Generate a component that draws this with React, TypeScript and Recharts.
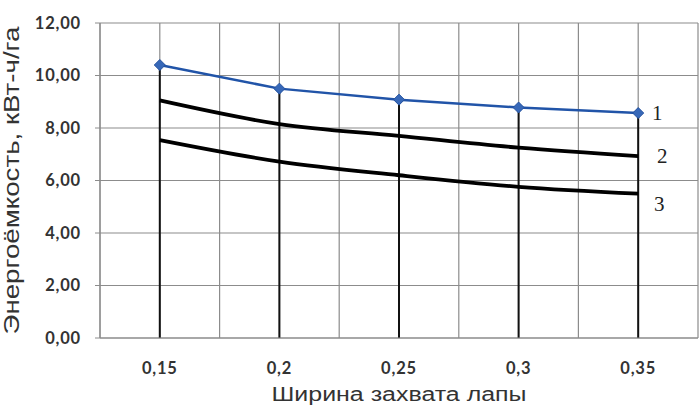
import { LineChart, Line, XAxis, YAxis, CartesianGrid, ReferenceLine } from "recharts";

const widths = [0.15, 0.2, 0.25, 0.3, 0.35];
const series1 = [10.4, 9.5, 9.08, 8.78, 8.57];
const series2 = [9.05, 8.15, 7.7, 7.25, 6.93];
const series3 = [7.54, 6.72, 6.2, 5.76, 5.5];
const yTicks = [0, 2, 4, 6, 8, 10, 12];
const gridX = [0.125, 0.15, 0.175, 0.2, 0.225, 0.25, 0.275, 0.3, 0.325, 0.35, 0.375];
const curveNames = ["1", "2", "3"];
const xTitle = "Ширина  захвата  лапы";
const yTitle = "Энергоёмкость,  кВт-ч/га";

const data = widths.map((w, i) => ({
  w,
  s1: series1[i],
  s2: series2[i],
  s3: series3[i],
}));

const fmtNum = (v: number, digits: number) => v.toFixed(digits).replace(".", ",");
const fmtX = (v: number) => String(v).replace(".", ",");

const tickStyle = {
  fontFamily: "Lato, 'Open Sans', sans-serif",
  fontSize: 16.5,
  fontWeight: 700,
  letterSpacing: 0.8,
  fill: "#333",
};

// label at the end of each curve, shifted to the right of the last point
const endLabel = (name: string, dx: number, dy: number) => (props: any) => {
  const { x, y, index } = props;
  if (index !== widths.length - 1) return null;
  return (
    <text
      key={name}
      x={x + dx}
      y={y + dy}
      textAnchor="middle"
      dominantBaseline="central"
      fontFamily="'Liberation Serif', serif"
      fontSize={21}
      fill="#222"
    >
      {name}
    </text>
  );
};

const Diamond = (props: any) => {
  const { cx, cy, index } = props;
  if (cx == null || cy == null) return null;
  const r = 5.5;
  return (
    <path
      key={index}
      d={`M${cx},${cy - r}L${cx + r},${cy}L${cx},${cy + r}L${cx - r},${cy}Z`}
      fill="#3768b8"
      stroke="#2452a0"
      strokeWidth={1}
    />
  );
};

export default function App() {
  return (
    <div style={{ position: "absolute", left: 0, top: 0, background: "#fff" }}>
      <LineChart
        width={699}
        height={407}
        data={data}
        margin={{ top: 23, right: 1, left: 0, bottom: 0 }}
      >
        <CartesianGrid
          stroke="#8c8c8c"
          strokeWidth={1.2}
          horizontalValues={yTicks}
          verticalValues={gridX}
        />
        <XAxis
          dataKey="w"
          type="number"
          domain={[0.125, 0.375]}
          ticks={widths}
          tickFormatter={fmtX}
          tick={tickStyle}
          tickLine={false}
          tickSize={0}
          tickMargin={24}
          axisLine={{ stroke: "#8c8c8c", strokeWidth: 1.2 }}
          height={69}
          label={{
            content: (p: any) => {
              const vb = p.viewBox;
              const cx = vb.x + vb.width / 2;
              return (
                <text
                  x={cx}
                  y={401}
                  textAnchor="middle"
                  textLength={255}
                  lengthAdjust="spacingAndGlyphs"
                  fontFamily="'Liberation Sans', Arial, sans-serif"
                  fontSize={20}
                  fill="#333"
                >
                  {xTitle}
                </text>
              );
            },
          }}
        />
        <YAxis
          type="number"
          domain={[0, 12]}
          ticks={yTicks}
          tickFormatter={(v) => fmtNum(v, 2)}
          tick={tickStyle}
          tickSize={5}
          tickMargin={14}
          tickLine={{ stroke: "#8c8c8c" }}
          axisLine={{ stroke: "#8c8c8c", strokeWidth: 1.2 }}
          width={100}
          label={{
            content: (p: any) => {
              const vb = p.viewBox;
              const cy = vb.y + vb.height / 2;
              return (
                <text
                  x={11}
                  y={cy}
                  transform={`rotate(-90, 11, ${cy})`}
                  textAnchor="middle"
                  dominantBaseline="central"
                  textLength={308}
                  lengthAdjust="spacingAndGlyphs"
                  fontFamily="'Liberation Sans', Arial, sans-serif"
                  fontSize={22}
                  fill="#333"
                >
                  {yTitle}
                </text>
              );
            },
          }}
        />
        {widths.map((w, i) => (
          <ReferenceLine
            key={w}
            segment={[
              { x: w, y: 0 },
              { x: w, y: series1[i] },
            ]}
            stroke="#111"
            strokeWidth={2}
          />
        ))}
        <Line
          dataKey="s3"
          type="monotone"
          stroke="#000"
          strokeWidth={3.8}
          dot={false}
          isAnimationActive={false}
          label={endLabel(curveNames[2], 21, 10)}
        />
        <Line
          dataKey="s2"
          type="monotone"
          stroke="#000"
          strokeWidth={3.8}
          dot={false}
          isAnimationActive={false}
          label={endLabel(curveNames[1], 24, 0)}
        />
        <Line
          dataKey="s1"
          type="linear"
          stroke="#2154a8"
          strokeWidth={2.5}
          dot={<Diamond />}
          isAnimationActive={false}
          label={endLabel(curveNames[0], 19, 0)}
        />
      </LineChart>
    </div>
  );
}
